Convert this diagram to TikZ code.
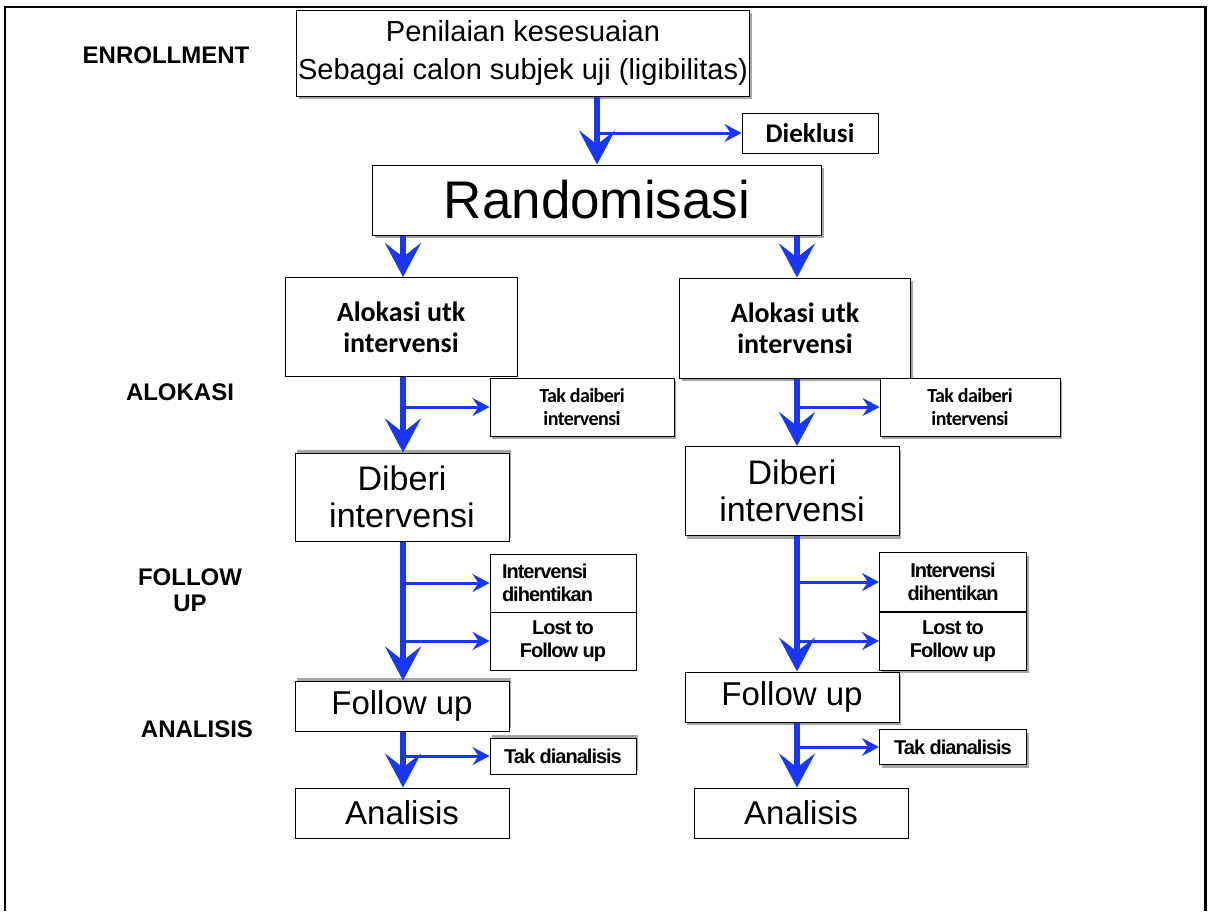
\documentclass[tikz,border=0pt]{standalone}
\usepackage{fontspec}
\setmainfont{Liberation Sans}
\newfontfamily\calib{Carlito}
\newfontfamily\calibtight[LetterSpace=-3]{Carlito}
\newfontfamily\tightsans[LetterSpace=-5]{Liberation Sans}
\usetikzlibrary{arrows.meta,shadows,calc}
\definecolor{arrowblue}{RGB}{25,55,245}
\begin{document}
\begin{tikzpicture}[x=1pt,y=-1pt,
  box/.style={draw, fill=white, line width=1pt, inner sep=0pt, align=center, text=black},
  shdown/.style={drop shadow={shadow xshift=2pt, shadow yshift=-3pt, fill=gray!70, opacity=1}},
  shup/.style={drop shadow={shadow xshift=2pt, shadow yshift=3pt, fill=gray!70, opacity=1}},
  sidelabel/.style={font=\fontsize{24}{26}\selectfont\bfseries, align=center, inner sep=0pt},
  bigtext/.style={font=\fontsize{34}{37}\selectfont},
  calibtext/.style={font=\fontsize{28}{31}\selectfont\calib\bfseries},
  smallcalib/.style={font=\fontsize{20}{23}\selectfont\calibtight\bfseries},
  smalltight/.style={font=\fontsize{20}{23}\selectfont\tightsans\bfseries},
  mainarrow/.style={draw=arrowblue, line width=6.5pt, -{Stealth[length=34pt,width=36pt,inset=14pt]}},
  sidearrow/.style={draw=arrowblue, line width=3pt, -{Stealth[length=17pt,width=18pt,inset=6pt]}}
]
\useasboundingbox (0,0) rectangle (1208,911);
% outer frame
\draw[line width=1.5pt] (5,911) -- (5,7) -- (1205,7);
\draw[line width=3pt] (1205,6) -- (1205,911);

% side labels
\node[sidelabel] (enroll) at (166,55) {ENROLLMENT};
\node[sidelabel] (alok) at (180,392) {ALOKASI};
\node[sidelabel] (fu) at (190,590) {FOLLOW\\UP};
\node[sidelabel] (anal) at (197,729) {ANALISIS};

% top
\node[box, shdown, minimum width=453pt, minimum height=86pt, font=\fontsize{29}{38}\selectfont] (top) at (523,53)
  {Penilaian kesesuaian\\Sebagai calon subjek uji (ligibilitas)};
\node[box, minimum width=136pt, minimum height=40pt, font=\fontsize{27}{30}\selectfont\calib\bfseries] (diek) at (810,133) {Dieklusi};
\node[box, shdown, minimum width=449pt, minimum height=70pt, font=\fontsize{53}{56}\selectfont] (rand) at (597,200) {Randomisasi};

% left column
\node[box, minimum width=232pt, minimum height=99pt, calibtext] (allocL) at (401,327) {Alokasi utk\\intervensi};
\node[box, shdown, minimum width=184pt, minimum height=58pt, smallcalib] (takL) at (582,407) {Tak daiberi\\intervensi};
\node[box, shup, minimum width=214pt, minimum height=88pt, bigtext] (diberiL) at (402,497) {Diberi\\intervensi};
\node[box, minimum width=146pt, minimum height=58pt, smalltight, text width=122pt, align=left] (intL) at (563,583) {Intervensi\\dihentikan};
\node[box, minimum width=146pt, minimum height=58pt, smalltight] (lostL) at (563,641) {Lost to\\Follow up};
\node[box, shup, minimum width=214pt, minimum height=50pt, font=\fontsize{33}{36}\selectfont] (followL) at (402,706) {Follow up};
\node[box, shup, minimum width=146pt, minimum height=36pt, smalltight] (tdL) at (563,756) {Tak dianalisis};
\node[box, minimum width=214pt, minimum height=50pt, font=\fontsize{33}{36}\selectfont] (analL) at (402,813) {Analisis};

% right column
\node[box, shdown, minimum width=231pt, minimum height=100pt, calibtext] (allocR) at (795,328) {Alokasi utk\\intervensi};
\node[box, shdown, minimum width=180pt, minimum height=58pt, smallcalib] (takR) at (970,407) {Tak daiberi\\intervensi};
\node[box, shdown, minimum width=214pt, minimum height=89pt, bigtext] (diberiR) at (792,491) {Diberi\\intervensi};
\node[box, shdown, minimum width=147pt, minimum height=59pt, smalltight] (intR) at (953,582) {Intervensi\\dihentikan};
\node[box, shdown, minimum width=147pt, minimum height=58pt, smalltight] (lostR) at (953,641) {Lost to\\Follow up};
\node[box, shdown, minimum width=214pt, minimum height=50pt, font=\fontsize{33}{36}\selectfont] (followR) at (792,697) {Follow up};
\node[box, shdown, minimum width=147pt, minimum height=35pt, smalltight] (tdR) at (953,747) {Tak dianalisis};
\node[box, minimum width=214pt, minimum height=50pt, font=\fontsize{33}{36}\selectfont] (analR) at (801,813) {Analisis};

% columns x
\coordinate (cL) at (403,0);
\coordinate (cR) at (797,0);
\coordinate (cT) at (597,0);

% top arrows
\draw[mainarrow] (cT |- top.south) -- (cT |- rand.north);
\draw[sidearrow] (cT |- diek.west) -- (diek.west);

% left arrows
\draw[mainarrow] (cL |- rand.south) -- (cL |- allocL.north);
\draw[mainarrow] (cL |- allocL.south) -- (cL |- diberiL.north);
\draw[sidearrow] (cL |- takL.west) -- (takL.west);
\draw[mainarrow] (cL |- diberiL.south) -- (cL |- followL.north);
\draw[sidearrow] (cL |- intL.west) -- (intL.west);
\draw[sidearrow] (cL |- lostL.west) -- (lostL.west);
\draw[mainarrow] (cL |- followL.south) -- (cL |- analL.north);
\draw[sidearrow] (cL |- tdL.west) -- (tdL.west);

% right arrows
\draw[mainarrow] (cR |- rand.south) -- (cR |- allocR.north);
\draw[mainarrow] (cR |- allocR.south) -- (cR |- diberiR.north);
\draw[sidearrow] (cR |- takR.west) -- (takR.west);
\draw[mainarrow] (cR |- diberiR.south) -- (cR |- followR.north);
\draw[sidearrow] (cR |- intR.west) -- (intR.west);
\draw[sidearrow] (cR |- lostR.west) -- (lostR.west);
\draw[mainarrow] (cR |- followR.south) -- (cR |- analR.north);
\draw[sidearrow] (cR |- tdR.west) -- (tdR.west);
\end{tikzpicture}
\end{document}
